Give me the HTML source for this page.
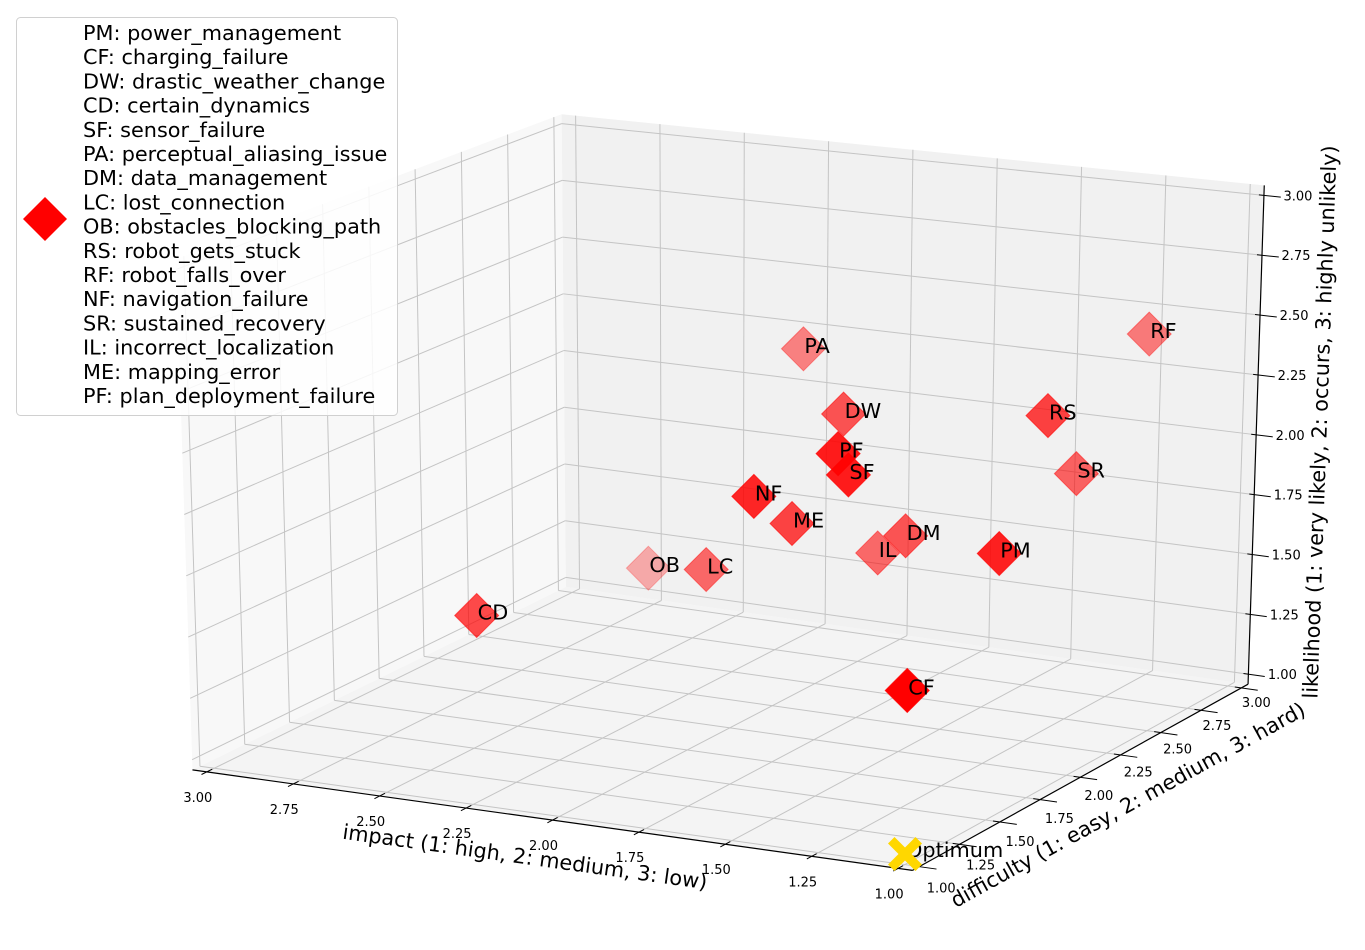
<!DOCTYPE html>
<html><head><meta charset="utf-8"><style>
html,body{margin:0;padding:0;background:#fff;}
svg{display:block;font-family:"DejaVu Sans","Liberation Sans",sans-serif;}
</style></head><body>
<svg id="chart" width="1365" height="950" viewBox="0 0 1365 950" xmlns="http://www.w3.org/2000/svg">
<g id="panes"></g>
<g id="grid"></g>
<g id="axes"></g>
<g id="marks"></g>
<text x="525" y="864" font-size="20.8" text-anchor="middle" transform="rotate(7.9 525 857)">impact (1: high, 2: medium, 3: low)</text>
<text x="1128" y="812" font-size="20.8" text-anchor="middle" transform="rotate(-28.9 1128 805)">difficulty (1: easy, 2: medium, 3: hard)</text>
<text x="1320" y="429" font-size="20.8" text-anchor="middle" transform="rotate(-88 1320 422)">likelihood (1: very likely, 2: occurs, 3: highly unlikely)</text>
<g>
<rect x="16.5" y="17.5" width="381" height="398" rx="4" fill="#fff" fill-opacity="0.85" stroke="#d0d0d0"/>
<polygon points="45,197 67,219 45,241 23,219" fill="#ff0000"/>
<g id="legtext" font-size="20.8" fill="#000"></g>
</g>
</svg>
<script>
const codes=["PM","CF","DW","CD","SF","PA","DM","LC","OB","RS","RF","NF","SR","IL","ME","PF"];
const impact=[1.0,1.0,1.67,2.4,1.33,2.04,1.5,2.07,2.59,1.1,1.2,1.6,1.2,1.68,1.67,1.36];
const difficulty=[1.555,1.0,2.0,1.33,1.33,2.5,2.03,2.0,2.67,2.05,2.864,1.33,2.44,2.23,1.7,1.33];
const likelihood=[2.0,1.64,2.31,1.58,2.33,2.36,1.83,1.60,1.27,2.38,2.44,2.2,2.0,1.66,1.96,2.41];
const legendLabels=["PM: power_management","CF: charging_failure","DW: drastic_weather_change","CD: certain_dynamics","SF: sensor_failure","PA: perceptual_aliasing_issue","DM: data_management","LC: lost_connection","OB: obstacles_blocking_path","RS: robot_gets_stuck","RF: robot_falls_over","NF: navigation_failure","SR: sustained_recovery","IL: incorrect_localization","ME: mapping_error","PF: plan_deployment_failure"];
const ticks=[1.0,1.25,1.5,1.75,2.0,2.25,2.5,2.75,3.0];
const tickLabels=["1.00","1.25","1.50","1.75","2.00","2.25","2.50","2.75","3.00"];
const optimum=[1,1,1];

const NS="http://www.w3.org/2000/svg";
const lo=1-2/48, hi=3+2/48;
const C=[[[[905,854],[912,343]],[[1228,676],[1243,197]]],[[[214,758],[199,268]],[[572,583],[568,128]]]];
function proj(x,y,z){
  const u=(x-1)/2,v=(y-1)/2,w=(z-1)/2;
  let px=0,py=0;
  for(let i=0;i<2;i++)for(let j=0;j<2;j++)for(let k=0;k<2;k++){
    const f=(i?u:1-u)*(j?v:1-v)*(k?w:1-w);
    px+=f*C[i][j][k][0];py+=f*C[i][j][k][1];
  }
  return [px,py];
}
function mk(tag,attrs,parent){const e=document.createElementNS(NS,tag);for(const a in attrs)e.setAttribute(a,attrs[a]);parent.appendChild(e);return e;}
function ptsStr(arr){return arr.map(p=>{const q=proj(p[0],p[1],p[2]);return q[0].toFixed(1)+","+q[1].toFixed(1);}).join(" ");}
function line(p1,p2,parent,stroke,w){const a=proj(...p1),b=proj(...p2);return mk("line",{x1:a[0],y1:a[1],x2:b[0],y2:b[1],stroke:stroke,"stroke-width":w},parent);}

const panes=document.getElementById("panes");
let e;
e=mk("polygon",{points:ptsStr([[lo,lo,lo],[hi,lo,lo],[hi,hi,lo],[lo,hi,lo]]),fill:"#f4f4f4"},panes);


e=mk("polygon",{points:ptsStr([[hi,lo,lo],[hi,hi,lo],[hi,hi,hi],[hi,lo,hi]]),fill:"#f8f8f8"},panes);


e=mk("polygon",{points:ptsStr([[lo,hi,lo],[hi,hi,lo],[hi,hi,hi],[lo,hi,hi]]),fill:"#f1f1f1"},panes);



const grid=document.getElementById("grid");
const gc="#c4c4c4";
ticks.forEach(t=>{
  e=line([t,lo,lo],[t,hi,lo],grid,gc,1);
  
  
  e=line([t,hi,lo],[t,hi,hi],grid,gc,1);
  
  
  e=line([lo,t,lo],[hi,t,lo],grid,gc,1);
  
  
  e=line([hi,t,lo],[hi,t,hi],grid,gc,1);
  
  
  e=line([hi,lo,t],[hi,hi,t],grid,gc,1);
  
  
  e=line([lo,hi,t],[hi,hi,t],grid,gc,1);
  
  
});

const axes=document.getElementById("axes");
e=line([hi,lo,lo],[lo,lo,lo],axes,"#000",1.2);


e=line([lo,lo,lo],[lo,hi,lo],axes,"#000",1.2);


e=line([lo,hi,lo],[lo,hi,hi],axes,"#000",1.2);


ticks.forEach((t,i)=>{
  e=line([t,lo-0.03,lo],[t,lo+0.03,lo],axes,"#000",1);
  
  
  let p=proj(t,lo,lo);
  e=mk("text",{x:p[0]-9,y:p[1]+30,"font-size":13,"text-anchor":"middle"},axes);
  e.textContent=tickLabels[i];
  
  
  e=line([lo+0.02,t,lo],[lo-0.05,t,lo],axes,"#000",1);
  
  
  p=proj(lo,t,lo);
  const f=(t-1)/2;
  e=mk("text",{x:p[0]+22-7*f,y:p[1]+26-7*f,"font-size":13,"text-anchor":"middle"},axes);
  e.textContent=tickLabels[i];
  
  
  e=line([lo+0.015,hi,t],[lo-0.05,hi,t],axes,"#000",1);
  
  
  p=proj(lo,hi,t);
  e=mk("text",{x:p[0]+34,y:p[1]+5,"font-size":13,"text-anchor":"middle"},axes);
  e.textContent=tickLabels[i];
  
  
});

const marks=document.getElementById("marks");
function depth(i){return 0.35*(impact[i]-1)/2+0.65*(difficulty[i]-1)/2-0.1*(likelihood[i]-1)/2;}
const ds=codes.map((c,i)=>depth(i));
const dmin=Math.min(...ds),dmax=Math.max(...ds);
const order=codes.map((c,i)=>i).sort((a,b)=>ds[b]-ds[a]);
order.forEach(i=>{
  const p=proj(impact[i],difficulty[i],likelihood[i]);
  const a=1-0.7*(ds[i]-dmin)/(dmax-dmin);
  const r=22;
  e=mk("polygon",{points:`${p[0]},${p[1]-r} ${p[0]+r},${p[1]} ${p[0]},${p[1]+r} ${p[0]-r},${p[1]}`,fill:"#ff0000","fill-opacity":a.toFixed(3),stroke:"#ff0000","stroke-opacity":(a*0.8).toFixed(3)},marks);
  
  
});
const labels=mk("g",{"font-size":20.8,fill:"#000"},document.getElementById("chart"));


codes.forEach((c,i)=>{
  const p=proj(impact[i],difficulty[i],likelihood[i]);
  e=mk("text",{x:p[0]+1,y:p[1]+4},labels);
  e.textContent=c;
  
  
});
(function(){
  const p=proj(optimum[0],optimum[1],optimum[2]);
  e=mk("text",{x:p[0]+1,y:p[1]+3},labels);
  e.textContent="Optimum";
  
  
  const s=17,w=6.5;
  const pts=[[0,-w],[s-w,-s],[s,-s+w],[w,0],[s,s-w],[s-w,s],[0,w],[-s+w,s],[-s,s-w],[-w,0],[-s,-s+w],[-s+w,-s]];
  e=mk("polygon",{points:pts.map(q=>(p[0]+q[0])+","+(p[1]+q[1])).join(" "),fill:"#ffd700"},labels);
  
  
})();
const lt=document.getElementById("legtext");
legendLabels.forEach((s,i)=>{
  e=mk("text",{x:83,y:40+i*24.2},lt);
  e.textContent=s;
  
  
});
</script>
</body></html>
